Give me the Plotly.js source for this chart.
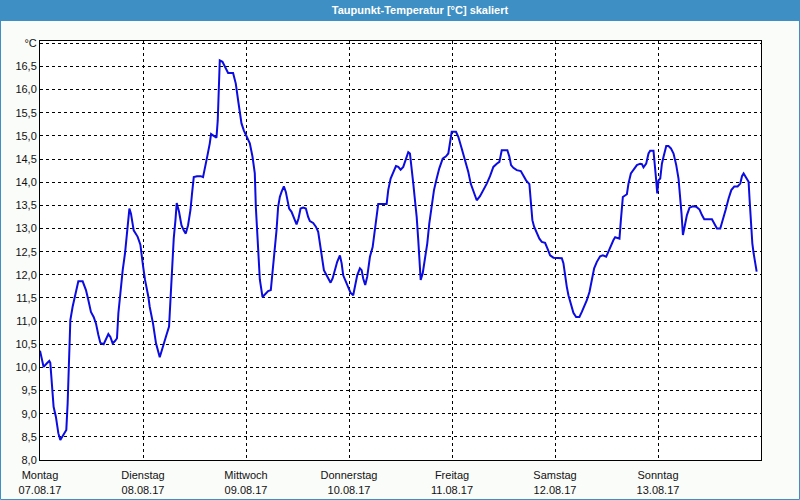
<!DOCTYPE html>
<html>
<head>
<meta charset="utf-8">
<script src="https://cdn.plot.ly/plotly-3.0.1.min.js"></script>
<style>
html,body{margin:0;padding:0;background:#fafcfa;}
#chart{width:800px;height:500px;}
</style>
</head>
<body>
<div id="chart"></div>
<script>
// Hours since Montag 07.08.17 00:00
var hours = [0,0.84,1.61,2.17,2.40,2.71,3.17,3.71,4.27,4.73,5.50,6.13,6.44,6.83,7.07,7.60,8.14,8.61,8.93,9.94,
10.71,11.27,11.87,12.50,13.04,13.60,14.06,14.83,15.37,15.93,16.40,16.93,17.47,17.94,18.26,18.73,19.27,19.80,20.27,20.83,
21.20,21.83,22.76,23.39,24.0,24.47,25.26,25.56,26.33,27.03,27.90,28.67,29.46,30.07,30.39,30.76,31.16,31.56,31.86,32.40,
32.96,33.49,33.96,34.50,35.06,35.43,35.83,36.60,37.46,37.99,38.55,39.02,39.56,39.86,40.49,41.12,41.42,41.66,41.89,42.52,
43.06,43.83,44.99,45.62,46.16,46.55,46.95,47.49,48.12,48.89,49.52,50.05,50.29,50.59,50.82,51.06,51.22,51.85,52.62,53.15,
53.78,54.18,54.65,55.11,55.49,55.88,56.28,56.82,57.28,57.68,58.05,58.61,59.15,59.78,60.25,60.71,61.32,61.95,62.48,62.88,
63.65,64.28,64.82,65.21,65.61,66.15,66.78,67.31,67.71,68.18,68.71,69.25,69.88,70.28,70.65,71.28,71.81,72.37,72.98,73.38,
73.91,74.54,74.94,75.31,75.78,76.25,76.88,77.51,78.04,78.44,78.81,80.77,81.14,81.70,82.31,82.94,83.48,84.03,84.64,85.27,
85.81,86.20,86.60,86.98,87.37,87.77,88.14,88.37,88.70,89.17,89.70,90.24,90.71,91.27,91.80,92.43,93.04,93.83,94.60,95.14,
95.53,95.93,96.93,97.47,98.26,99.03,99.80,100.36,100.97,101.76,102.53,103.30,104.10,104.86,105.64,106.43,107.04,107.59,108.90,109.37,
109.76,110.30,111.09,112.03,112.63,113.26,114.03,114.43,114.73,115.13,115.76,116.36,116.92,117.69,118.23,118.86,119.63,121.59,121.96,122.36,
122.75,123.13,123.69,124.29,124.92,125.69,126.25,126.79,127.42,128.03,128.59,129.12,129.75,130.52,131.15,131.92,132.45,133.02,133.62,134.02,
135.02,135.35,135.81,136.75,137.12,137.68,138.29,139.08,139.85,140.25,140.62,141.25,141.79,142.18,142.95,143.28,143.58,143.82,144.12,144.52,
144.91,145.29,145.92,146.45,147.01,147.62,148.25,148.78,149.18,149.48,149.81,150.18,150.74,151.35,152.14,152.91,153.68,154.24,154.78,156.57,
157.11,157.74,158.51,159.14,159.75,160.45,161.08,161.78,162.55,163.17,163.57,163.95,164.58,165.11,165.35,165.68,165.98,166.29,166.68,166.99];

var dewpoint = [10.36,10.01,10.09,10.14,10.10,9.66,9.15,8.93,8.58,8.43,8.54,8.65,9.22,10.30,11.02,11.31,11.52,11.74,11.86,11.86,
11.67,11.45,11.20,11.09,10.95,10.70,10.53,10.50,10.60,10.72,10.66,10.52,10.57,10.63,11.17,11.67,12.10,12.46,12.96,13.43,
13.32,12.96,12.82,12.65,12.20,11.89,11.52,11.31,10.95,10.52,10.22,10.48,10.70,10.88,11.45,12.17,12.78,13.18,13.55,13.36,
13.07,12.96,12.89,13.07,13.40,13.76,14.11,14.13,14.13,14.11,14.33,14.58,14.84,15.04,15.00,14.96,15.34,16.20,16.63,16.60,
16.50,16.36,16.36,16.13,15.77,15.48,15.27,15.12,14.98,14.84,14.55,14.19,13.47,12.89,12.39,11.96,11.90,11.52,11.60,11.65,
11.67,12.03,12.46,12.96,13.47,13.68,13.79,13.91,13.79,13.61,13.43,13.36,13.25,13.09,13.22,13.43,13.45,13.43,13.25,13.16,
13.12,13.04,12.93,12.71,12.39,12.10,11.99,11.90,11.83,11.92,12.12,12.28,12.42,12.25,11.99,11.85,11.74,11.61,11.56,11.74,
11.99,12.14,12.10,11.92,11.78,11.96,12.39,12.60,12.96,13.25,13.53,13.53,13.83,14.08,14.22,14.35,14.33,14.27,14.33,14.48,
14.65,14.62,14.33,13.97,13.61,13.25,12.75,12.32,11.89,12.03,12.32,12.68,13.11,13.47,13.83,14.08,14.30,14.51,14.56,14.62,
14.91,15.09,15.09,14.98,14.73,14.48,14.22,13.97,13.79,13.61,13.70,13.83,13.97,14.13,14.33,14.40,14.44,14.69,14.69,14.55,
14.37,14.31,14.26,14.24,14.15,14.04,13.96,13.54,13.18,13.04,12.89,12.78,12.71,12.69,12.57,12.42,12.37,12.36,12.25,11.96,
11.74,11.56,11.35,11.18,11.09,11.09,11.20,11.32,11.45,11.63,11.89,12.14,12.28,12.40,12.42,12.39,12.50,12.64,12.75,12.81,
12.78,13.18,13.68,13.74,13.97,14.19,14.27,14.37,14.40,14.39,14.32,14.40,14.62,14.68,14.68,14.40,14.04,13.76,14.04,14.08,
14.40,14.55,14.78,14.78,14.73,14.62,14.37,14.08,13.68,13.32,12.86,13.04,13.29,13.45,13.48,13.47,13.41,13.29,13.20,13.20,
13.12,13.00,13.00,13.18,13.40,13.65,13.83,13.91,13.91,13.97,14.13,14.19,14.10,14.01,13.61,13.04,12.68,12.46,12.25,12.07];

var dayTicks = [0, 24, 48, 72, 96, 120, 144];
var dayNames = ["Montag", "Dienstag", "Mittwoch", "Donnerstag", "Freitag", "Samstag", "Sonntag"];
var dayDates = ["07.08.17", "08.08.17", "09.08.17", "10.08.17", "11.08.17", "12.08.17", "13.08.17"];

var yTicks = [8,8.5,9,9.5,10,10.5,11,11.5,12,12.5,13,13.5,14,14.5,15,15.5,16,16.5,17];
var yText = yTicks.map(function(v){ return v === 17 ? "°C" : v.toFixed(1).replace(".", ","); });
var xText = dayNames.map(function(n, i){ return n + "<br>" + dayDates[i]; });

var W = 800, H = 500;
var M = {l: 40, r: 39, t: 41, b: 40};
var pw = W - M.l - M.r, ph = H - M.t - M.b;
function px(x){ return (x - M.l) / pw; }
function py(y){ return 1 - (y - M.t) / ph; }

var barColor = "#3d8fc4";
var font = "Liberation Sans, Arial, sans-serif";

var trace = {
  x: hours, y: dewpoint, type: "scatter", mode: "lines",
  line: {color: "#0c0ce0", width: 2}, hoverinfo: "skip"
};

var layout = {
  width: W, height: H,
  margin: M,
  paper_bgcolor: "#fafcfa",
  plot_bgcolor: "#ffffff",
  showlegend: false,
  font: {family: font, size: 11, color: "#111111"},
  title: {
    text: "<b>Taupunkt-Temperatur [°C] skaliert</b>",
    font: {family: font, size: 11, color: "#ffffff"},
    xref: "paper", x: px(420), xanchor: "center",
    yref: "container", y: 1 - 10.5 / H, yanchor: "middle"
  },
  xaxis: {
    range: [0, 168], tickvals: dayTicks, ticktext: xText,
    showgrid: true, gridcolor: "#000000", gridwidth: 1, griddash: "3px,3px",
    zeroline: false, showline: true, mirror: true, linecolor: "#000000", linewidth: 1,
    ticks: "outside", ticklen: 5, tickcolor: "rgba(0,0,0,0)",
    tickfont: {family: font, size: 11, color: "#111111"}, fixedrange: true
  },
  yaxis: {
    range: [8, 17.05], tickvals: yTicks, ticktext: yText,
    showgrid: true, gridcolor: "#000000", gridwidth: 1, griddash: "3px,3px",
    zeroline: false, showline: true, mirror: true, linecolor: "#000000", linewidth: 1,
    ticks: "", tickfont: {family: font, size: 11, color: "#111111"}, fixedrange: true
  },
  shapes: [
    {type: "rect", xref: "paper", yref: "paper", layer: "below",
     x0: px(0), x1: px(800), y0: py(21), y1: py(0),
     fillcolor: barColor, line: {width: 0}},
    {type: "rect", xref: "paper", yref: "paper", layer: "above",
     x0: px(0.5), x1: px(799.5), y0: py(499.5), y1: py(0.5),
     fillcolor: "rgba(0,0,0,0)", line: {color: barColor, width: 1}}
  ]
};

Plotly.newPlot("chart", [trace], layout, {displayModeBar: false, staticPlot: true});
</script>
</body>
</html>
